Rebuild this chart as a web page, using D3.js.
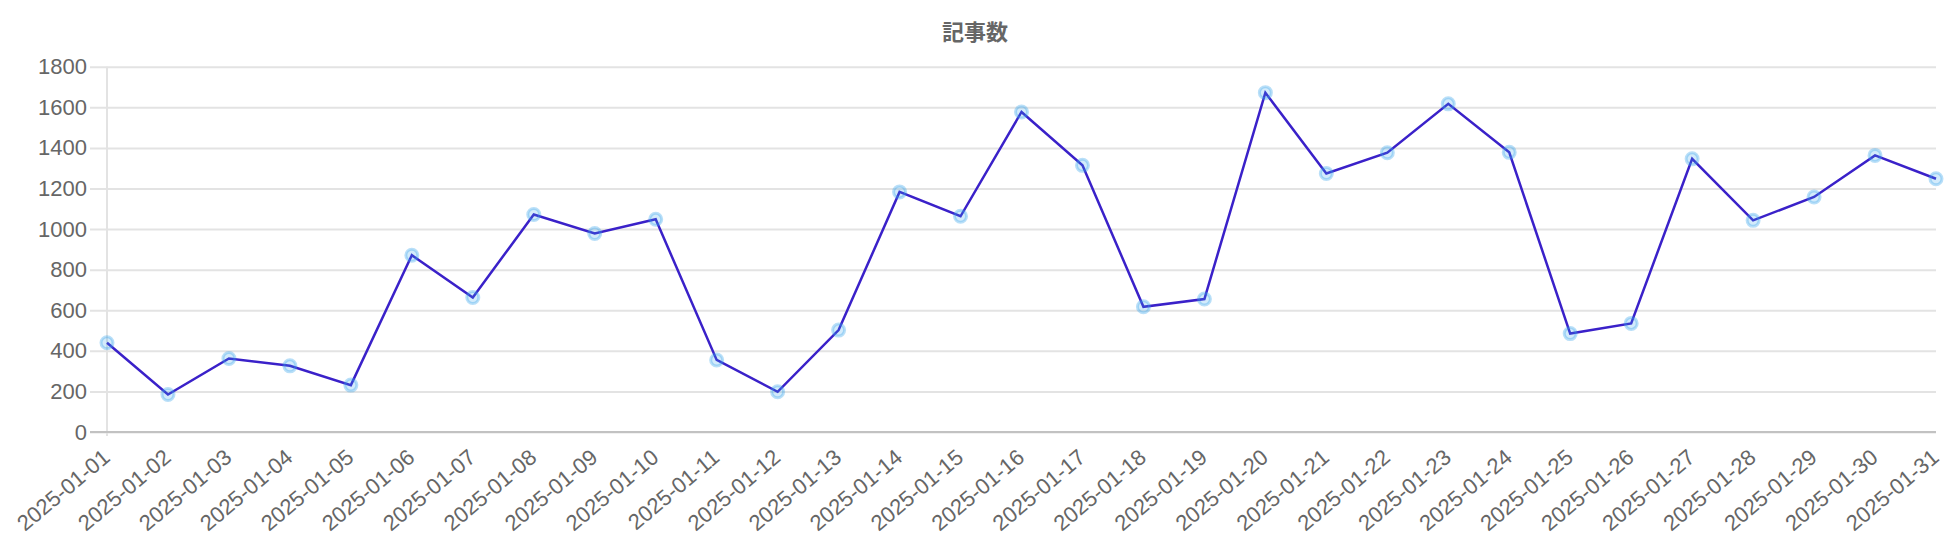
<!DOCTYPE html>
<html>
<head>
<meta charset="utf-8">
<script src="https://cdn.jsdelivr.net/npm/d3@7"></script>
<style>
  html, body { margin: 0; padding: 0; background: #fff; }
  svg { display: block; }
</style>
</head>
<body>
<script>
const title = "記事数";
const dates = [
  "2025-01-01","2025-01-02","2025-01-03","2025-01-04","2025-01-05","2025-01-06","2025-01-07",
  "2025-01-08","2025-01-09","2025-01-10","2025-01-11","2025-01-12","2025-01-13","2025-01-14",
  "2025-01-15","2025-01-16","2025-01-17","2025-01-18","2025-01-19","2025-01-20","2025-01-21",
  "2025-01-22","2025-01-23","2025-01-24","2025-01-25","2025-01-26","2025-01-27","2025-01-28",
  "2025-01-29","2025-01-30","2025-01-31"
];
const counts = [
  440, 185, 362, 326, 231, 871, 663,
  1072, 978, 1048, 355, 198, 502, 1183,
  1063, 1577, 1314, 617, 655, 1672, 1274,
  1376, 1617, 1378, 485, 535, 1346, 1043,
  1158, 1363, 1248
];
const yTicks = [0, 200, 400, 600, 800, 1000, 1200, 1400, 1600, 1800];

const W = 1950, H = 540;
const margin = { left: 107, right: 14, top: 66.7, bottom: 108 };

const svg = d3.select("body").append("svg").attr("width", W).attr("height", H);

const x = d3.scalePoint().domain(dates).range([margin.left, W - margin.right]);
const y = d3.scaleLinear().domain([0, 1800]).range([H - margin.bottom, margin.top]);

// title
svg.append("text")
  .attr("x", W / 2).attr("y", 40)
  .attr("text-anchor", "middle")
  .attr("font-family", "'Noto Sans CJK JP', sans-serif")
  .attr("font-weight", "bold")
  .attr("font-size", 22)
  .attr("fill", "#666")
  .text(title);

// y grid + labels
const yAxis = d3.axisLeft(y).tickValues(yTicks).tickFormat(d3.format("d"))
  .tickSize(-(W - margin.right - margin.left)).tickPadding(20);
const gy = svg.append("g").attr("transform", `translate(${margin.left},0)`).call(yAxis);
gy.select(".domain").remove();
gy.selectAll(".tick line")
  .attr("x1", -17)
  .attr("stroke", "#e3e3e3").attr("stroke-width", 2);
gy.selectAll(".tick text")
  .attr("x", -20)
  .attr("font-family", "'Liberation Sans', Arial, sans-serif")
  .attr("font-size", 22).attr("fill", "#666");

// y axis border (left)
svg.append("line")
  .attr("x1", margin.left).attr("x2", margin.left)
  .attr("y1", margin.top).attr("y2", y(0) + 4)
  .attr("stroke", "#e3e3e3").attr("stroke-width", 2);

// x axis
const xAxis = d3.axisBottom(x).tickSize(0).tickPadding(0);
const gx = svg.append("g").attr("transform", `translate(0,${y(0)})`).call(xAxis);
gx.select(".domain").remove();
gx.selectAll(".tick text")
  .attr("font-family", "'Liberation Sans', Arial, sans-serif")
  .attr("font-size", 22).attr("fill", "#666")
  .attr("text-anchor", "end")
  .attr("dy", null)
  .attr("y", 0)
  .attr("dominant-baseline", "central")
  .attr("transform", "translate(-1,22) rotate(-40)");

svg.append("line")
  .attr("x1", margin.left - 17).attr("x2", W - margin.right)
  .attr("y1", y(0)).attr("y2", y(0))
  .attr("stroke", "#c2c2c2").attr("stroke-width", 2);

// line
const line = d3.line().x((d, i) => x(dates[i])).y(d => y(d));
svg.append("path")
  .datum(counts)
  .attr("d", line)
  .attr("fill", "none")
  .attr("stroke", "#3a21c9")
  .attr("stroke-width", 2.5)
  .attr("stroke-linejoin", "miter");

// points
svg.append("g").selectAll("circle")
  .data(counts)
  .join("circle")
  .attr("cx", (d, i) => x(dates[i]))
  .attr("cy", d => y(d))
  .attr("r", 6)
  .attr("fill", "rgba(54,162,235,0.22)")
  .attr("stroke", "rgba(54,162,235,0.35)")
  .attr("stroke-width", 3);
</script>
</body>
</html>
